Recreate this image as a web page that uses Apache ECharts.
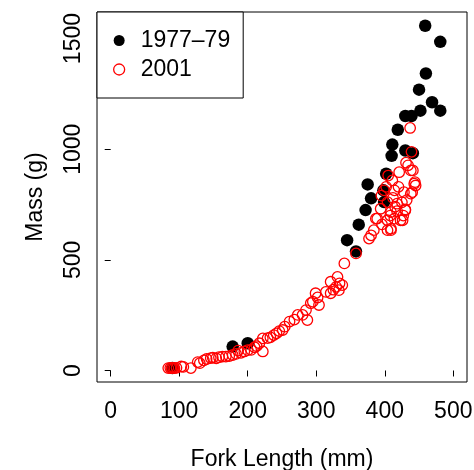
<!DOCTYPE html>
<html>
<head>
<meta charset="utf-8">
<script src="https://cdn.jsdelivr.net/npm/echarts@6/dist/echarts.min.js"></script>
<style>html,body{margin:0;padding:0;background:#fff}#c{width:474px;height:470px}</style>
</head>
<body>
<div id="c"></div>
<script>
const xTicks = [0, 100, 200, 300, 400, 500];
const yTicks = [0, 500, 1000, 1500];
const seriesNames = ['1977\u201379', '2001'];

// 1977–79: [fork length mm, mass g]
const data1977 = [
  [90, 11], [178, 108], [200, 123], [345, 589], [358, 538], [362, 659],
  [372, 725], [375, 841], [380, 778], [398, 814], [399, 761], [402, 889],
  [410, 970], [411, 1021], [419, 1088], [430, 994], [441, 982], [430, 1150],
  [439, 1150], [452, 1174], [450, 1269], [460, 1342], [469, 1212],
  [459, 1558], [481, 1485], [481, 1174]
];

// 2001: [fork length mm, mass g]
const data2001 = [
  [84, 11], [87, 12], [89, 11], [91, 12], [93, 11], [96, 12], [103, 18], [106, 16],
  [117, 11], [127, 38], [130, 33], [136, 46], [140, 52], [146, 56], [149, 58],
  [154, 55], [158, 60], [163, 63], [168, 63], [173, 65], [178, 70], [183, 75],
  [186, 90], [190, 80], [195, 86], [200, 92], [205, 93], [210, 105], [213, 110],
  [217, 123], [222, 86], [222, 145], [229, 146], [233, 150], [238, 160], [242, 168],
  [246, 178], [251, 183], [254, 198], [261, 221], [268, 230], [273, 251], [280, 251],
  [285, 273], [287, 228], [292, 304], [295, 311], [299, 349], [302, 330], [304, 296],
  [314, 355], [321, 349], [321, 401], [325, 365], [329, 378], [331, 423], [333, 363],
  [334, 394], [338, 386], [341, 484], [358, 529],
  [377, 596], [380, 611], [384, 634], [387, 686], [389, 686], [394, 731], [399, 814],
  [404, 761], [404, 679], [404, 634], [405, 881], [409, 641], [409, 716], [409, 634],
  [411, 859], [414, 814], [414, 686], [418, 754], [421, 896], [423, 679], [426, 679],
  [428, 806], [430, 724], [430, 728], [431, 939], [434, 927], [437, 1096], [438, 904],
  [438, 799], [439, 988], [440, 806], [441, 904], [443, 844], [444, 851], [445, 836],
  [395, 790], [402, 830], [412, 780], [420, 830], [425, 760], [415, 740], [432, 770],
  [408, 700], [418, 720], [396, 660], [427, 700]
];

const FONT = '"Liberation Sans", Arial, Helvetica, sans-serif';
const FS = 23;
const chart = echarts.init(document.getElementById('c'), null, {renderer: 'canvas'});
chart.setOption({
  backgroundColor: '#fff',
  animation: false,
  grid: {left: 97, right: 7, top: 12, bottom: 88, show: true, borderColor: '#000', borderWidth: 1, containLabel: false, outerBoundsMode: 'none'},
  xAxis: {
    type: 'value', min: -20, max: 520,
    name: 'Fork Length (mm)', nameLocation: 'middle', nameGap: 66,
    nameTextStyle: {fontFamily: FONT, fontSize: FS, color: '#000'},
    axisLine: {show: false},
    splitLine: {show: false},
    axisTick: {show: true, length: 6, inside: false, customValues: xTicks, lineStyle: {color: '#000', width: 1}},
    axisLabel: {customValues: xTicks, margin: 18, fontFamily: FONT, fontSize: FS, color: '#000', formatter: v => String(v)}
  },
  yAxis: {
    type: 'value', min: -52, max: 1620,
    name: 'Mass (g)', nameLocation: 'middle', nameGap: 50, nameRotate: 90,
    nameTextStyle: {fontFamily: FONT, fontSize: FS, color: '#000'},
    axisLine: {show: false},
    splitLine: {show: false},
    axisTick: {show: true, length: 6, inside: false, customValues: yTicks, lineStyle: {color: '#000', width: 1}},
    axisLabel: {customValues: yTicks, rotate: 90, margin: 12, fontFamily: FONT, fontSize: FS, color: '#000', formatter: v => String(v)}
  },
  legend: {
    orient: 'vertical', left: 97, top: 12,
    padding: [17, 13, 17, 16],
    itemGap: 6, itemWidth: 11, itemHeight: 11,
    borderColor: '#000', borderWidth: 1, borderRadius: 0, backgroundColor: '#fff',
    textStyle: {fontFamily: FONT, fontSize: FS, color: '#000', padding: [0, 0, 0, 11]},
    data: [
      {name: seriesNames[0], icon: 'circle', itemStyle: {color: '#000', borderWidth: 0}},
      {name: seriesNames[1], icon: 'circle', itemStyle: {color: '#fff', borderColor: '#ff0000', borderWidth: 1.3}}
    ]
  },
  series: [
    {
      name: seriesNames[0], type: 'scatter', data: data1977,
      symbol: 'circle', symbolSize: 12.5,
      itemStyle: {color: '#000', opacity: 1}
    },
    {
      name: seriesNames[1], type: 'scatter', data: data2001,
      symbol: 'circle', symbolSize: 10.5,
      itemStyle: {color: 'rgba(0,0,0,0)', borderColor: '#ff0000', borderWidth: 1.3, opacity: 1}
    }
  ]
});
</script>
</body>
</html>
